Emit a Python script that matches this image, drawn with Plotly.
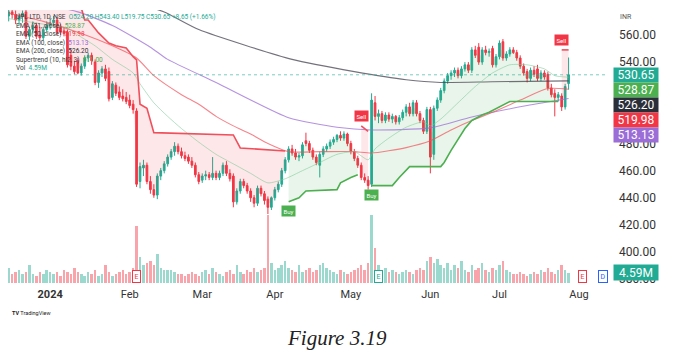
import pandas as pd
import plotly.graph_objects as go

# ---------------- data ----------------
dates = pd.bdate_range("2023-12-14", "2024-07-29")
axis_dates = pd.bdate_range("2023-12-14", "2024-08-30")

opens = [574, 577, 575, 571, 574, 577, 559, 564, 567, 560, 558, 564, 567, 569, 571, 566, 563, 562, 545, 537,
         541, 532, 537, 543, 545, 540, 525, 532, 535, 533, 514, 523, 518, 515, 514, 512, 509, 504, 452, 462,
         464, 452, 446, 442, 456, 460, 465, 470, 474, 478, 474, 471, 470, 467, 464, 457, 453, 456, 457, 455,
         458, 455, 458, 464, 458, 456, 437, 445, 452, 449, 445, 440, 436, 447, 443, 439, 433, 440, 446, 450,
         460, 468, 476, 473, 470, 471, 482, 480, 475, 470, 464, 472, 476, 478, 481, 483, 486, 484, 487, 480,
         474, 469, 464, 455, 453, 450, 510, 500, 502, 497, 501, 498, 500, 496, 499, 503, 507, 502, 510, 502,
         497, 489, 505, 472, 506, 512, 519, 526, 530, 532, 534, 530, 535, 538, 534, 549, 551, 540, 549, 547,
         550, 538, 544, 555, 543, 546, 549, 547, 543, 537, 533, 528, 534, 535, 528, 532, 531, 521, 517, 514,
         515, 507, 524.20]
highs = [579, 582, 578, 576, 578, 580, 566, 570, 569, 566, 566, 570, 572, 574, 573, 568, 566, 564, 549, 541,
         543, 539, 545, 547, 547, 542, 534, 537, 538, 536, 526, 525, 522, 520, 518, 516, 512, 506, 466, 468,
         466, 456, 450, 458, 462, 467, 472, 476, 481, 480, 477, 474, 472, 470, 466, 459, 458, 460, 459, 470,
         460, 460, 466, 467, 461, 458, 447, 454, 454, 451, 447, 442, 449, 449, 445, 441, 441, 448, 452, 462,
         470, 478, 479, 476, 473, 481, 488, 482, 477, 472, 474, 478, 480, 483, 485, 487, 489, 489, 488, 482,
         476, 471, 466, 458, 456, 517, 515, 505, 504, 503, 503, 502, 501, 501, 505, 509, 510, 512, 512, 504,
         499, 507, 507, 508, 514, 521, 528, 532, 534, 536, 536, 537, 540, 540, 551, 552, 554, 551, 552, 550,
         552, 546, 556, 557, 548, 551, 551, 549, 545, 539, 535, 536, 537, 538, 534, 534, 533, 524, 520, 518,
         517, 524, 543.40]
lows = [570, 572, 568, 567, 569, 557, 556, 561, 557, 556, 556, 562, 564, 566, 560, 560, 559, 536, 534, 531,
        531, 530, 535, 540, 538, 523, 521, 529, 526, 511, 512, 515, 512, 511, 509, 506, 502, 448, 447, 456,
        450, 443, 440, 439, 453, 458, 463, 468, 471, 472, 469, 467, 465, 462, 455, 450, 451, 453, 453, 453,
        453, 453, 456, 456, 452, 433, 435, 443, 447, 443, 437, 433, 434, 441, 435, 428, 431, 438, 444, 448,
        458, 466, 471, 468, 467, 469, 478, 473, 468, 464, 455, 470, 474, 476, 479, 481, 482, 482, 478, 472,
        467, 462, 453, 451, 446, 448, 497, 495, 495, 495, 496, 495, 494, 494, 497, 500, 500, 500, 500, 495,
        487, 487, 458, 468, 504, 510, 517, 524, 527, 529, 528, 528, 533, 532, 532, 543, 538, 538, 545, 544,
        536, 536, 542, 541, 541, 544, 546, 541, 535, 530, 525, 526, 529, 526, 526, 527, 519, 514, 500, 511,
        504, 505, 519.75]
closes = [577, 575, 571, 574, 576, 559, 564, 567, 559, 558, 564, 567, 569, 571, 562, 562, 561, 538, 537, 533,
          532, 537, 543, 545, 541, 525, 532, 535, 528, 513, 524, 517, 514, 513, 511, 508, 505, 450, 463, 464,
          452, 446, 442, 456, 460, 465, 470, 474, 478, 474, 471, 469, 467, 464, 457, 452, 456, 457, 455, 458,
          455, 458, 464, 458, 454, 437, 445, 452, 449, 445, 440, 436, 447, 443, 438, 433, 440, 446, 450, 460,
          468, 476, 473, 470, 471, 479, 480, 475, 470, 466, 472, 476, 478, 481, 483, 486, 484, 487, 480, 474,
          469, 464, 455, 453, 449, 512, 500, 502, 497, 501, 498, 500, 496, 499, 503, 507, 502, 510, 502, 497,
          489, 505, 470, 506, 512, 519, 526, 530, 532, 534, 530, 535, 538, 534, 549, 545, 540, 549, 547, 548,
          538, 544, 554, 543, 546, 549, 547, 543, 537, 532, 528, 534, 531, 528, 532, 529, 521, 516, 514, 516,
          507, 522, 530.65]
volumes_m = [7, 4, 5, 6, 4, 5, 8, 4, 3, 5, 4, 6, 5, 4, 5, 3, 6, 5, 4, 7, 5, 4, 3, 5, 4, 6, 3, 4, 8, 5,
             3, 4, 5, 6, 4, 5, 7,
             26,
             12, 8, 9, 10, 8, 13, 7, 6, 6, 6, 5, 4, 4, 3, 4, 5, 4, 3, 5, 6, 4, 7, 5, 4, 3, 5, 6, 4, 8, 5,
             4, 6, 5, 7, 5, 6, 7,
             31,
             9, 6, 7, 8, 10, 7, 6, 5, 8, 5, 6, 7, 5, 6, 8, 9, 7, 6, 5, 4, 6, 5, 4, 5, 6, 7, 8, 6, 9,
             31, 16,
             8, 6, 7, 5, 6, 5, 4, 5, 6, 5, 4, 6, 7, 6, 10, 12, 9, 11, 8, 7, 9, 6, 8, 7, 10, 6, 5, 8, 6, 7,
             9, 6, 5, 7, 6, 8, 10, 6, 5, 4, 4, 5, 4, 3, 4, 5, 4, 6, 5, 7, 5, 4, 6, 8, 6, 4.59]

# EMA lines (bar index, value)
ema21_i = [0, 10, 17, 20, 25, 30, 36, 38, 42, 46, 50, 55, 60, 65, 70, 75, 80, 85, 90, 95, 100, 104, 106, 110,
           115, 120, 122, 125, 130, 135, 140, 145, 150, 155, 158, 162]
ema21_v = [572, 568, 565, 560, 552, 542, 532, 524, 510, 500, 491, 481, 472, 465, 458, 451, 454, 460, 466, 472,
           474, 468, 476, 484, 492, 496, 493, 498, 510, 522, 532, 538, 538, 535, 530, 528.87]
ema50_i = [0, 10, 20, 30, 37, 42, 50, 55, 60, 65, 70, 75, 81, 90, 100, 105, 115, 122, 128, 135, 140, 148, 156, 162]
ema50_v = [576, 570, 562, 552, 543, 530, 516, 509, 500, 493, 487, 480, 474, 474, 474, 473, 477, 482, 490, 498,
           503, 512, 520.5, 519.98]
ema100_i = [0, 20, 30, 41, 46, 60, 81, 95, 105, 122, 134, 150, 162]
ema100_v = [588, 577, 567, 551, 542, 525, 499, 492, 490, 491.5, 499.6, 508, 513.13]
ema200_i = [0, 20, 40, 45, 55, 82, 100, 115, 125, 140, 162]
ema200_v = [605, 595, 581, 577, 564, 542, 533, 527, 525, 525.5, 526.20]

# Supertrend segments (bar index, value)
st_red1_i = [0, 21, 22, 23, 26, 29, 31, 34, 36, 37, 38, 40, 42, 65, 67, 80]
st_red1_v = [580, 580, 571, 571, 561.5, 554, 552, 550.4, 544, 541.6, 509, 506, 488, 486.3, 476.7, 474.5]
st_green1_i = [81, 84, 86, 95, 96, 99, 101]
st_green1_v = [437, 440, 445, 446, 451, 455, 457]
st_red2_i = [102, 103, 104]
st_red2_v = [493, 491, 489]
st_green2_i = [105, 107, 111, 113, 116, 125, 126, 128, 130, 132, 134, 137, 139, 142, 145, 159]
st_green2_v = [449, 449, 449, 455, 463, 463, 466, 475, 483, 491, 497, 501, 503, 507, 511, 511]
st_red3_i = [160, 161, 162]
st_red3_v = [549, 549, 549]

month_starts = ["2024-01-01", "2024-02-01", "2024-03-01", "2024-04-01", "2024-05-01",
                "2024-06-01", "2024-07-01", "2024-08-01"]
month_labels = ["<b>2024</b>", "Feb", "Mar", "Apr", "May", "Jun", "Jul", "Aug"]
price_ticks = [380, 400, 420, 440, 460, 480, 540, 560]

events = [("2024-02-05", "E", "#f23645"), ("2024-05-13", "E", "#22ab94"),
          ("2024-08-02", "E", "#f23645"), ("2024-08-12", "D", "#2962ff")]

legend_title = "UPL LTD, 1D, NSE"
ohlc_text = "O524.20 H543.40 L519.75 C530.65 +8.65 (+1.66%)"
ind_names = ["EMA (21, close)", "EMA (50, close)", "EMA (100, close)", "EMA (200, close)",
             "Supertrend (10, hl2, 3)", "Vol"]

# ---------------- styling ----------------
UP = "#22ab94"
DN = "#f23645"
C21 = "#4caf50"
C50 = "#f23645"
C100 = "#9b6dd6"
C200 = "#2a2e39"
FONT = "Roboto"

n = len(closes)
idx = list(range(n))
mids = [(o + c) / 2 for o, c in zip(opens, closes)]

fig = go.Figure()

# volume (main y axis, hidden)
vol_colors = ["rgba(34,171,148,0.45)" if c >= o else "rgba(242,54,69,0.45)" for o, c in zip(opens, closes)]
fig.add_trace(go.Bar(x=idx, y=volumes_m, marker=dict(color=vol_colors, line=dict(width=0)),
                     width=0.72, yaxis="y", hoverinfo="skip"))


def seg_fill(si, sv, color):
    a, b = si[0], si[-1]
    xs = list(si) + list(range(b, a - 1, -1))
    ys = list(sv) + [mids[k] for k in range(b, a - 1, -1)]
    fig.add_trace(go.Scatter(x=xs, y=ys, fill="toself", fillcolor=color, line=dict(width=0),
                             mode="lines", yaxis="y2", hoverinfo="skip"))


seg_fill(st_red1_i, st_red1_v, "rgba(242,54,69,0.12)")
seg_fill(st_green1_i, st_green1_v, "rgba(76,175,80,0.12)")
seg_fill(st_red2_i, st_red2_v, "rgba(242,54,69,0.12)")
seg_fill(st_green2_i, st_green2_v, "rgba(76,175,80,0.12)")
seg_fill(st_red3_i, st_red3_v, "rgba(242,54,69,0.12)")

for xi, yv, col, w in [(ema200_i, ema200_v, "rgba(70,65,80,0.75)", 1.1),
                       (ema100_i, ema100_v, "rgba(155,109,214,0.75)", 1.1),
                       (ema50_i, ema50_v, "rgba(242,80,90,0.7)", 1.1),
                       (ema21_i, ema21_v, "rgba(120,200,150,0.55)", 1)]:
    fig.add_trace(go.Scatter(x=xi, y=yv, mode="lines", line=dict(color=col, width=w, shape="spline", smoothing=0.6),
                             yaxis="y2", hoverinfo="skip"))

for si, sv, col in [(st_red1_i, st_red1_v, "#f0505c"), (st_green1_i, st_green1_v, "#4caf50"),
                    (st_red2_i, st_red2_v, "#f0505c"), (st_green2_i, st_green2_v, "#4caf50"),
                    (st_red3_i, st_red3_v, "#f0505c")]:
    fig.add_trace(go.Scatter(x=si, y=sv, mode="lines", line=dict(color=col, width=1.6),
                             yaxis="y2", hoverinfo="skip"))

fig.add_trace(go.Candlestick(x=idx, open=opens, high=highs, low=lows, close=closes, yaxis="y2",
                             increasing=dict(line=dict(color=UP, width=1), fillcolor=UP),
                             decreasing=dict(line=dict(color=DN, width=1), fillcolor=DN),
                             whiskerwidth=0, hoverinfo="skip"))

# month ticks
date_list = list(axis_dates)
tickvals = []
for m in month_starts:
    ts = pd.Timestamp(m)
    tickvals.append(next(k for k, d in enumerate(date_list) if d >= ts))

annotations = []
# Buy / Sell labels at supertrend flips
for si, sv, txt, col, shift in [(st_green1_i, st_green1_v, "Buy", "#4caf50", -9),
                                (st_red2_i, st_red2_v, "Sell", "#f23645", 10),
                                (st_green2_i, st_green2_v, "Buy", "#4caf50", -9),
                                (st_red3_i, st_red3_v, "Sell", "#f23645", 10)]:
    annotations.append(dict(x=si[0], y=sv[0], xref="x", yref="y2", text=txt, showarrow=False,
                            yshift=shift, bgcolor=col, font=dict(color="white", size=6, family=FONT),
                            borderpad=1.5))

# price tags on the right
tag_vals = [(closes[-1], UP), (ema21_v[-1], C21), (ema200_v[-1], C200), (ema50_v[-1], C50), (ema100_v[-1], C100)]
tag_vals.sort(key=lambda t: -t[0])
for k, (v, col) in enumerate(tag_vals):
    annotations.append(dict(x=1, xref="paper", y=tag_vals[0][0], yref="y2", yshift=-15 * k, xanchor="left",
                            yanchor="middle", xshift=5, text=f"{v:.2f}", showarrow=False, bgcolor=col,
                            width=42, height=12, font=dict(color="white", size=12, family=FONT), borderpad=1))
annotations.append(dict(x=1, xref="paper", y=volumes_m[-1], yref="y", xanchor="left", yanchor="middle",
                        xshift=5, text=f"{volumes_m[-1]:.2f}M", showarrow=False, bgcolor=UP, width=42, height=13,
                        font=dict(color="white", size=12, family=FONT), borderpad=1))
annotations.append(dict(x=1, xref="paper", y=0.975, yref="paper", xanchor="left", yanchor="middle", xshift=10,
                        text="INR", showarrow=False, font=dict(color="#555", size=7, family=FONT)))

# indicator legend (top-left)
val_cols = [C21, C50, C100, C200, C21, UP]
val_txt = [f"{ema21_v[-1]:.2f}", f"{ema50_v[-1]:.2f}", f"{ema100_v[-1]:.2f}", f"{ema200_v[-1]:.2f}",
           f"{st_green2_v[-1]:.2f}", f"{volumes_m[-1]:.2f}M"]
lines = [f"{legend_title}  <span style='color:{UP}'>{ohlc_text}</span>"]
for nm, vt, vc in zip(ind_names, val_txt, val_cols):
    lines.append(f"{nm}  <span style='color:{vc}'>{vt}</span>")
for k, ln in enumerate(lines):
    annotations.append(dict(x=0, xref="paper", xanchor="left", xshift=6, y=1, yref="paper", yanchor="middle",
                            yshift=-7 - 8.5 * k, text=ln, showarrow=False,
                            font=dict(color="#3a3a3a", size=6.5, family=FONT)))

# event markers
for d, letter, col in events:
    ts = pd.Timestamp(d)
    xi = next(k for k, dd in enumerate(date_list) if dd >= ts)
    annotations.append(dict(x=xi, xref="x", y=0.024, yref="paper", yanchor="middle", text=letter,
                            showarrow=False, font=dict(color=col, size=7, family=FONT), bgcolor="white",
                            bordercolor=col, borderwidth=1, borderpad=1.5))

annotations.append(dict(x=0, xref="paper", xanchor="left", xshift=2, y=-0.11, yref="paper", yanchor="middle",
                        text="<b>TV</b> TradingView", showarrow=False,
                        font=dict(color="#222", size=5.5, family=FONT)))
annotations.append(dict(x=0.548, xref="paper", y=-0.2, yref="paper", yanchor="middle", xanchor="center",
                        text="<i>Figure 3.19</i>", showarrow=False,
                        font=dict(color="#222", size=21, family="Liberation Serif")))

# page body has an 8px margin: figure is 665x348 so it fills the 673x356 window
fig.update_layout(
    width=665, height=348,
    margin=dict(l=0, r=65, t=2, b=73),
    paper_bgcolor="white", plot_bgcolor="white",
    showlegend=False,
    bargap=0,
    xaxis=dict(range=[-0.2, 173.4], tickvals=tickvals, ticktext=month_labels, showgrid=False,
               zeroline=False, rangeslider=dict(visible=False), showline=False, ticks="",
               tickfont=dict(size=11, color="#333", family=FONT), ticklabelstandoff=3),
    yaxis=dict(range=[0, 124], visible=False, fixedrange=True),
    yaxis2=dict(range=[377.2, 578.4], overlaying="y", side="right", tickvals=price_ticks,
                ticktext=[f"{v:.2f}" for v in price_ticks], showgrid=False, zeroline=False, ticks="",
                tickfont=dict(size=12, color="#333", family=FONT), ticklabelstandoff=10),
    annotations=annotations,
    shapes=[dict(type="line", xref="paper", x0=0, x1=1, yref="y2", y0=closes[-1], y1=closes[-1],
                 line=dict(color="rgba(34,171,148,0.6)", width=1, dash="dot"))],
)

fig.write_html("out.html")
